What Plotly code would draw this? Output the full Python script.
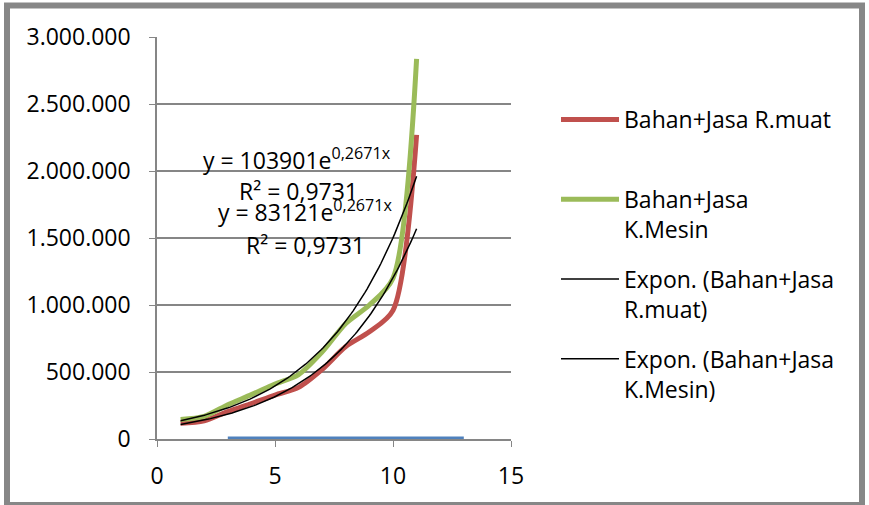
import numpy as np
import plotly.graph_objects as go

# ---------------- data ----------------
x_vals = [1, 2, 3, 4, 5, 6, 7, 8, 9, 10, 11]
rmuat = [117000, 135000, 205000, 265000, 328000, 385000, 520000, 690000, 800000, 960000, 2270000]
kmesin = [146000, 169000, 256000, 331000, 410000, 481000, 650000, 862000, 1000000, 1200000, 2837000]
blue_x = [3, 4, 5, 6, 7, 8, 9, 10, 11, 12, 13]
blue_y = [0, 0, 0, 0, 0, 0, 0, 0, 0, 0, 0]

# displayed trendline equations
A_RMUAT = 83121
A_KMESIN = 103901
B_EXP = 0.2671
R2_TEXT = "0,9731"

name_r = "Bahan+Jasa R.muat"
name_k = "Bahan+Jasa<br>K.Mesin"
name_er = "Expon. (Bahan+Jasa<br>R.muat)"
name_ek = "Expon. (Bahan+Jasa<br>K.Mesin)"

y_ticks = [0, 500000, 1000000, 1500000, 2000000, 2500000, 3000000]
x_ticks = [0, 5, 10, 15]

# ---------------- layout geometry ----------------
W, H = 869, 505
L, R, T, B = 157, 358, 37, 66
PW, PH = W - L - R, H - T - B
def px(xp):
    return (xp - L) / PW
def py(yp):
    return (H - B - yp) / PH

FONT = "Open Sans"
FS = 23

xt = np.linspace(min(x_vals), max(x_vals), 120)

fig = go.Figure()
fig.add_trace(go.Scatter(x=blue_x, y=blue_y, mode="lines", showlegend=False,
                         line=dict(color="#4F81BD", width=5), hoverinfo="skip"))
fig.add_trace(go.Scatter(x=x_vals, y=rmuat, mode="lines", name=name_r + "<br> ",
                         legendgroup="a",
                         line=dict(color="#C0504D", width=5, shape="spline", smoothing=0.8)))
fig.add_trace(go.Scatter(x=x_vals, y=kmesin, mode="lines", name=name_k,
                         legendgroup="b",
                         line=dict(color="#9BBB59", width=5, shape="spline", smoothing=0.8)))
fig.add_trace(go.Scatter(x=xt, y=A_RMUAT * np.exp(B_EXP * xt), mode="lines", name=name_er,
                         legendgroup="c",
                         line=dict(color="#000000", width=1.5)))
fig.add_trace(go.Scatter(x=xt, y=A_KMESIN * np.exp(B_EXP * xt), mode="lines", name=name_ek,
                         legendgroup="d",
                         line=dict(color="#000000", width=1.5)))

annots = [
    (297, 159, f"y = {A_KMESIN}e<sup>0,2671x</sup>"),
    (298, 191, f"R² = {R2_TEXT}"),
    (305, 211, f"y = {A_RMUAT}e<sup>0,2671x</sup>"),
    (305, 245, f"R² = {R2_TEXT}"),
]
for ax_, ay_, t in annots:
    fig.add_annotation(x=px(ax_), y=py(ay_), xref="paper", yref="paper", text=t,
                       showarrow=False, xanchor="center", yanchor="middle",
                       font=dict(family=FONT, size=FS, color="#000000"))

# outer border
fig.add_shape(type="rect", xref="paper", yref="paper",
              x0=px(7), x1=px(862), y0=py(505), y1=py(5.5),
              line=dict(color="#878787", width=6), layer="above")

fig.update_layout(
    width=W, height=H,
    margin=dict(l=L, r=R, t=T, b=B, pad=0),
    paper_bgcolor="white", plot_bgcolor="white",
    separators=",.",
    font=dict(family=FONT, size=FS, color="#000000"),
    legend=dict(x=px(556), y=py(98), xanchor="left", yanchor="top",
                valign="top", tracegroupgap=17, itemwidth=58,
                font=dict(family=FONT, size=FS, color="#000000"),
                bgcolor="rgba(0,0,0,0)"),
    showlegend=True,
)
fig.update_xaxes(range=[0, 15], tickvals=x_ticks, ticks="outside", ticklen=6,
                 tickcolor="#868686", showline=True, linecolor="#868686", linewidth=1.5,
                 showgrid=False, zeroline=False, ticklabelstandoff=10,
                 tickfont=dict(family=FONT, size=FS, color="#000000"))
fig.update_yaxes(range=[0, 3000000], tickvals=y_ticks, tickformat=",.0f",
                 ticks="outside", ticklen=6, tickcolor="#868686",
                 showline=True, linecolor="#868686", linewidth=1.5,
                 showgrid=True, gridcolor="#868686", gridwidth=1.5, zeroline=False,
                 ticklabelstandoff=14,
                 tickfont=dict(family=FONT, size=FS, color="#000000"))

fig.write_html("out.html")
